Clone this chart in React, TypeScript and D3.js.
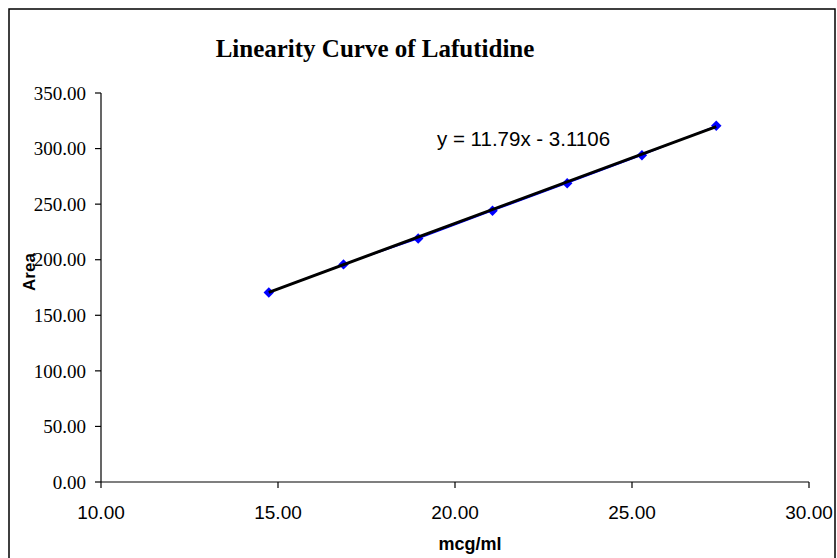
import React from "react";
import * as d3 from "d3";

const concentrations = [14.74, 16.85, 18.96, 21.06, 23.17, 25.28, 27.38];
const areas = [170.5, 195.8, 219.0, 244.0, 268.8, 294.0, 320.5];
const slope = 11.79;
const intercept = -3.1106;
const xTicks = [10, 15, 20, 25, 30];
const yTicks = [0, 50, 100, 150, 200, 250, 300, 350];
const title = "Linearity Curve of Lafutidine";
const xLabel = "mcg/ml";
const yLabel = "Area";
const equation = "y = 11.79x - 3.1106";

export default function App() {
  const W = 837, H = 558;
  const x = d3.scaleLinear().domain([10, 30]).range([101, 809]);
  const y = d3.scaleLinear().domain([0, 350]).range([482, 93]);
  const pts = concentrations.map((c, i) => [c, areas[i]] as [number, number]);
  const line = d3.line<[number, number]>().x(d => x(d[0])).y(d => y(d[1]));
  const x0 = d3.min(concentrations)!, x1 = d3.max(concentrations)!;
  const trend: [number, number][] = [[x0, slope * x0 + intercept], [x1, slope * x1 + intercept]];
  const serif = "Liberation Serif, Times New Roman, serif";
  const sans = "Liberation Sans, Arial, sans-serif";
  return (
    <svg width={W} height={H} style={{ position: "absolute", left: 0, top: 0, background: "#fff" }}>
      <rect x={9} y={9} width={826} height={560} fill="#fff" stroke="#000" strokeWidth={1.5} />
      <text x={375} y={57} textAnchor="middle" fontFamily={serif} fontWeight="bold" fontSize={25}>{title}</text>
      {/* y axis */}
      <line x1={x(10)} x2={x(10)} y1={y(350)} y2={y(0)} stroke="#000" strokeWidth={1.2} />
      {yTicks.map(t => (
        <g key={t}>
          <line x1={x(10) - 6} x2={x(10)} y1={y(t)} y2={y(t)} stroke="#000" strokeWidth={1.2} />
          <text x={86} y={y(t)} dy="0.35em" textAnchor="end" fontFamily={serif} fontSize={19}>{t.toFixed(2)}</text>
        </g>
      ))}
      {/* x axis */}
      <line x1={x(10)} x2={x(30)} y1={y(0)} y2={y(0)} stroke="#000" strokeWidth={1.2} />
      {xTicks.map(t => (
        <g key={t}>
          <line x1={x(t)} x2={x(t)} y1={y(0)} y2={y(0) + 6} stroke="#000" strokeWidth={1.2} />
          <text x={x(t)} y={512} dy="0.35em" textAnchor="middle" fontFamily={sans} fontSize={19}>{t.toFixed(2)}</text>
        </g>
      ))}
      <text x={470} y={550} textAnchor="middle" fontFamily={sans} fontWeight="bold" fontSize={18}>{xLabel}</text>
      <text transform="translate(35,272) rotate(-90)" textAnchor="middle" fontFamily={sans} fontWeight="bold" fontSize={17}>{yLabel}</text>
      {/* data */}
      <path d={line(pts)!} fill="none" stroke="#0000ff" strokeWidth={1.2} />
      {pts.map((p, i) => (
        <rect key={i} x={x(p[0]) - 3.7} y={y(p[1]) - 3.7} width={7.4} height={7.4} fill="#0000ff" transform={`rotate(45 ${x(p[0])} ${y(p[1])})`} />
      ))}
      <path d={line(trend)!} fill="none" stroke="#000" strokeWidth={3} />
      <text x={437} y={146} fontFamily={sans} fontSize={20.5}>{equation}</text>
    </svg>
  );
}
